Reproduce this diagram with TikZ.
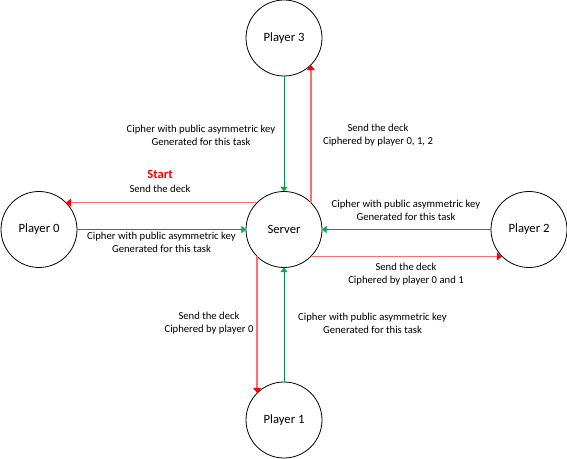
\documentclass[tikz,border=0pt]{standalone}
\usepackage{fontspec}
\setmainfont{Carlito}
\usetikzlibrary{arrows.meta}
\definecolor{deckline}{RGB}{255,110,110}
\definecolor{deckhead}{RGB}{255,0,0}
\definecolor{keyline}{RGB}{0,150,70}
\definecolor{keyhead}{RGB}{0,176,80}

\begin{document}
\begin{tikzpicture}[x=0.75pt, y=-0.75pt,
    player/.style={draw, circle, line width=0.6pt, minimum size=57pt, inner sep=0pt, outer sep=0pt, font=\fontsize{9.5}{11}\selectfont},
    deck/.style={draw=deckline, line width=1.1pt, -{Triangle[width=6pt, length=4pt, color=deckhead]}},
    key/.style={draw=keyline, line width=0.6pt, -{Triangle[width=5.5pt, length=3.5pt, color=keyhead]}},
    note/.style={align=center, font=\fontsize{8}{9.8}\selectfont}]
			\useasboundingbox (0,0) rectangle (567,459);

			% Draw the players and the server
			\node[player] (srv) at (284,229.5) {Server};
			\node[player] (p0) at (39,229.5) {Player 0};
			\node[player] (p1) at (284,420) {Player 1};
			\node[player] (p2) at (529,229.5) {Player 2};
			\node[player] (p3) at (284,38) {Player 3};

			% Draw the keys sent to the server
			\draw[key] (p3.south) -- (srv.north);
			\draw[key] (p0.east) -- (srv.west);
			\draw[key] (p2.west) -- (srv.east);
			\draw[key] (p1.north) -- (srv.south);

			% Draw the deck going round
			\draw[deck] (srv.north west) -- (p0.north east);
			\draw[deck] (srv.south west) -- (p1.north west);
			\draw[deck] (srv.south east) -- (p2.south west);
			\draw[deck] (srv.north east) -- (p3.south east);

			% Labels
			\node[note] (key3) at (201,135) {Cipher with public asymmetric key\\Generated for this task};
			\node[note] (deck3) at (378,135) {Send the deck\\Ciphered by player 0, 1, 2};
			\node[text=deckhead, font=\bfseries\fontsize{9.5}{11}\selectfont] (start) at (160,174) {Start};
			\node[note] (deck0) at (160,189) {Send the deck};
			\node[note] (key2) at (406,210.5) {Cipher with public asymmetric key\\Generated for this task};
			\node[note] (key0) at (161.5,242.5) {Cipher with public asymmetric key\\Generated for this task};
			\node[note] (deck2) at (406,274.5) {Send the deck\\Ciphered by player 0 and 1};
			\node[note] (deck1) at (209,323) {Send the deck\\Ciphered by player 0};
			\node[note] (key1) at (372.5,323) {Cipher with public asymmetric key\\Generated for this task};

		\end{tikzpicture}
\end{document}
